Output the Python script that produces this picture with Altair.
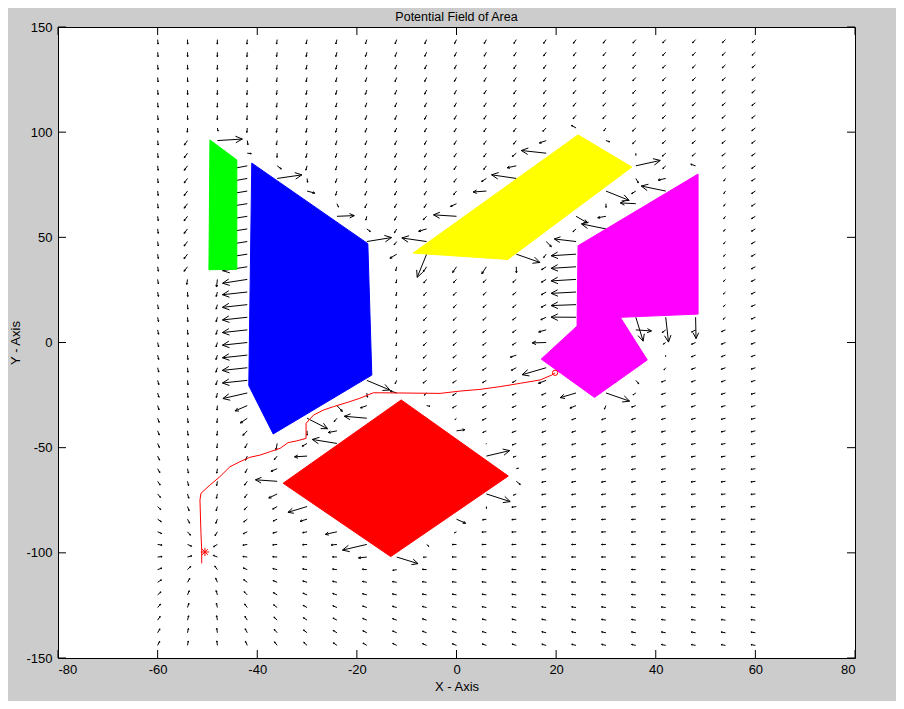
import numpy as np
import pandas as pd
import altair as alt

# quiver grid (every 6 units)
grid_x = [-60, -54, -48, -42, -36, -30, -24, -18, -12, -6, 0, 6, 12, 18, 24, 30, 36, 42, 48, 54, 60]
grid_y = [-144, -138, -132, -126, -120, -114, -108, -102, -96, -90, -84, -78, -72, -66, -60, -54,
          -48, -42, -36, -30, -24, -18, -12, -6, 0, 6, 12, 18, 24, 30, 36, 42, 48, 54, 60, 66, 72,
          78, 84, 90, 96, 102, 108, 114, 120, 126, 132, 138, 144]

x_ticks = [-80, -60, -40, -20, 0, 20, 40, 60, 80]
y_ticks = [-150, -100, -50, 0, 50, 100, 150]

# obstacles
green_x = [-49.5, -44.1, -44.1, -49.7]
green_y = [96.3, 86.8, 34.8, 34.6]
blue_x = [-41.1, -17.8, -17.0, -36.8, -41.7]
blue_y = [85.3, 47.0, -15.5, -43.5, -20.5]
yellow_x = [-8.7, 24.4, 35.2, 10.3]
yellow_y = [42.5, 98.7, 83.4, 39.5]
magenta_x = [24.4, 48.5, 48.5, 33.2, 24.2]
magenta_y = [46.0, 80.1, 13.5, 12.0, 8.0]
magenta2_x = [17.0, 30.4, 38.3, 27.7]
magenta2_y = [-7.9, 21.3, -8.3, -26.1]
red_x = [-34.8, -11.1, 10.4, -13.2]
red_y = [-66.9, -27.3, -63.5, -101.8]

obstacles = [
    ('green', '#00ff00', green_x, green_y),
    ('blue', '#0000ff', blue_x, blue_y),
    ('yellow', '#ffff00', yellow_x, yellow_y),
    ('magenta', '#ff00ff', magenta_x, magenta_y),
    ('magenta2', '#ff00ff', magenta2_x, magenta2_y),
    ('red', '#ff0000', red_x, red_y),
]

# robot path, from the start circle to the goal star
path_x = [19.8, 19.1, 16.8, 12.8, 8.7, 4.7, 0.7, -3.3, -15.4, -16.7, -19.4, -21.4, -24.7, -26.7,
          -28.7, -30.2, -30.2, -32.1, -33.8, -35.4, -37.4, -39.4, -41.5, -43.5, -45.5, -47.5,
          -49.5, -51.3, -51.5, -51.3, -51.15, -51.15]
path_y = [-14.4, -15.5, -17.8, -19.4, -21.0, -22.3, -23.1, -24.2, -23.9, -23.9, -26.5, -28.1,
          -30.5, -32.1, -34.5, -38.4, -45.6, -46.8, -47.6, -50.3, -51.9, -53.5, -54.6, -56.7,
          -59.1, -63.8, -67.8, -71.7, -74.9, -90.7, -98.7, -105.0]
start_x, start_y = [19.8], [-14.4]
goal_x, goal_y = [-50.5], [-99.6]

W, H = 797, 631
SX = W / 160.0
SY = H / 300.0


def closest_on_poly(p, xs, ys):
    pts = np.column_stack([xs, ys])
    best, best_d = None, 1e9
    for i in range(len(pts)):
        a, b = pts[i], pts[(i + 1) % len(pts)]
        ab = b - a
        t = np.clip(np.dot(p - a, ab) / np.dot(ab, ab), 0, 1)
        c = a + t * ab
        d = np.linalg.norm(p - c)
        if d < best_d:
            best, best_d = c, d
    return best, best_d


def inside(p, xs, ys):
    n, res = len(xs), False
    j = n - 1
    for i in range(n):
        if (ys[i] > p[1]) != (ys[j] > p[1]):
            xc = xs[i] + (p[1] - ys[i]) * (xs[j] - xs[i]) / (ys[j] - ys[i])
            if p[0] < xc:
                res = not res
        j = i
    return res


def to_px(v):
    return np.array([v[0] * SX, v[1] * SY])


# potential field: pull towards the goal, push away from nearby obstacles
segs = []
G = np.array([goal_x[0], goal_y[0]])
for gx in grid_x:
    for gy in grid_y:
        p = np.array([gx, gy], dtype=float)
        if any(inside(p, ox, oy) for _, _, ox, oy in obstacles):
            continue
        a = to_px(G - p)
        v = a / np.linalg.norm(a) * 4.5
        for _, _, ox, oy in obstacles:
            c, d = closest_on_poly(p, ox, oy)
            if d < 8:
                d = max(d, 0.8)
                r = to_px(p - c)
                v = v + r / np.linalg.norm(r) * 35 * (1 / d - 1 / 8.0)
        L = np.linalg.norm(v)
        if L > 25:
            v = v / L * 25
            L = 25
        tip = p + np.array([v[0] / SX, v[1] / SY])
        segs.append((gx, gy, tip[0], tip[1]))
        u = -v / L
        for ang in (0.45, -0.45):
            ca, sa = np.cos(ang), np.sin(ang)
            h = np.array([u[0] * ca - u[1] * sa, u[0] * sa + u[1] * ca]) * L * 0.3
            segs.append((tip[0], tip[1], tip[0] + h[0] / SX, tip[1] + h[1] / SY))

arrows_df = pd.DataFrame(segs, columns=['x', 'y', 'x2', 'y2'])

xs = alt.Scale(domain=[-80, 80], nice=False, zero=False)
ys = alt.Scale(domain=[-150, 150], nice=False, zero=False)
x_axis = alt.Axis(values=x_ticks, title='X - Axis', grid=False, ticks=False, domain=False,
                  labelPadding=5, titleY=28, titleBaseline='middle',
                  labelExpr="datum.value + ''")
y_axis = alt.Axis(values=y_ticks, title='Y - Axis', grid=False, ticks=False, domain=False,
                  labelPadding=6, titleX=-43, titleBaseline='middle',
                  labelExpr="datum.value + ''")

arrows = alt.Chart(arrows_df).mark_rule(color='black', strokeWidth=1).encode(
    x=alt.X('x:Q', scale=xs, axis=x_axis),
    y=alt.Y('y:Q', scale=ys, axis=y_axis),
    x2='x2:Q',
    y2='y2:Q',
)

layers = [arrows]
for name, col, ox, oy in obstacles:
    df = pd.DataFrame({'x': ox + ox[:1], 'y': oy + oy[:1], 'k': list(range(len(ox) + 1))})
    layers.append(alt.Chart(df).mark_line(fill=col, stroke=col, strokeWidth=1).encode(
        x=alt.X('x:Q', scale=xs), y=alt.Y('y:Q', scale=ys), order='k:Q'))

path_df = pd.DataFrame({'x': path_x, 'y': path_y, 'k': list(range(len(path_x)))})
layers.append(alt.Chart(path_df).mark_line(color='red', strokeWidth=1).encode(
    x=alt.X('x:Q', scale=xs), y=alt.Y('y:Q', scale=ys), order='k:Q'))

layers.append(alt.Chart(pd.DataFrame({'x': start_x, 'y': start_y})).mark_point(
    shape='circle', size=28, color='red', filled=False, strokeWidth=1, opacity=1).encode(
    x=alt.X('x:Q', scale=xs), y=alt.Y('y:Q', scale=ys)))
star = 'M-1,0L1,0M0,-1L0,1M-0.7,-0.7L0.7,0.7M-0.7,0.7L0.7,-0.7'
layers.append(alt.Chart(pd.DataFrame({'x': goal_x, 'y': goal_y})).mark_point(
    shape=star, size=70, color='red', filled=False, strokeWidth=1, opacity=1).encode(
    x=alt.X('x:Q', scale=xs), y=alt.Y('y:Q', scale=ys)))

# inward ticks on all four sides
xt = pd.DataFrame({'t': x_ticks})
yt = pd.DataFrame({'t': y_ticks})
layers.append(alt.Chart(xt).mark_rule(color='black').encode(
    x=alt.X('t:Q', scale=xs), y=alt.value(H), y2=alt.value(H - 8)))
layers.append(alt.Chart(xt).mark_rule(color='black').encode(
    x=alt.X('t:Q', scale=xs), y=alt.value(0), y2=alt.value(8)))
layers.append(alt.Chart(yt).mark_rule(color='black').encode(
    y=alt.Y('t:Q', scale=ys), x=alt.value(0), x2=alt.value(8)))
layers.append(alt.Chart(yt).mark_rule(color='black').encode(
    y=alt.Y('t:Q', scale=ys), x=alt.value(W), x2=alt.value(W - 8)))

chart = alt.layer(*layers).properties(
    width=W, height=H,
    title=alt.Title('Potential Field of Area', fontSize=12.5, font='Liberation Sans',
                    fontWeight='normal', color='black', offset=-2),
    autosize=alt.AutoSizeParams(type='none'),
    padding={'left': 50, 'top': 19, 'right': 41, 'bottom': 43},
).configure(background='#cccccc').configure_view(
    stroke='black', strokeWidth=1, fill='white'
).configure_axis(
    labelFont='Liberation Sans', labelFontSize=13, labelColor='black',
    titleFont='Liberation Sans', titleFontSize=13, titleColor='black', titleFontWeight='normal'
)

chart.save('out.html', embed_options={'renderer': 'svg', 'actions': False})
